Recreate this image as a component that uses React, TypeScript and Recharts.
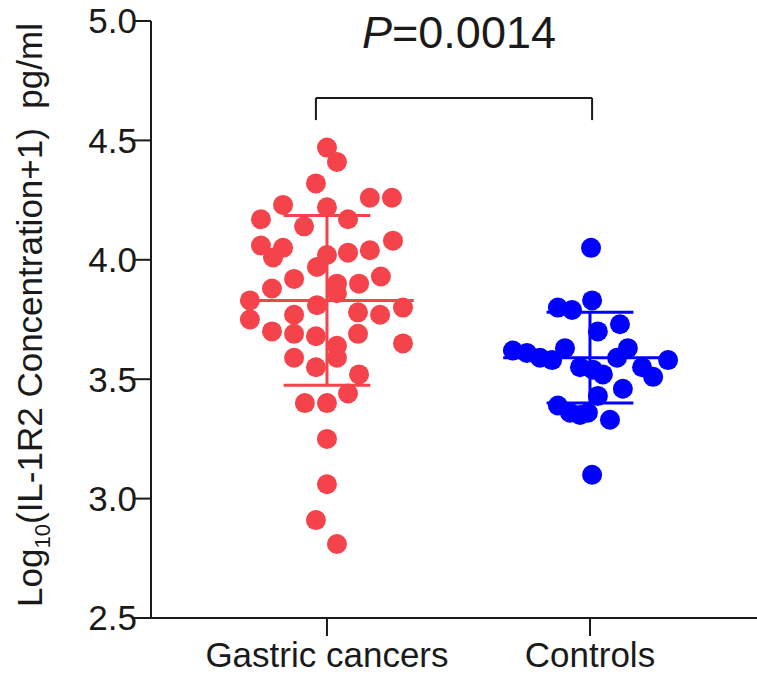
import { ScatterChart, Scatter, XAxis, YAxis, ReferenceLine } from "recharts";

const groups = ["Gastric cancers", "Controls"];
const groupPositions = [1, 2];
const groupColors = ["#F4434A", "#0000FF"];

// log10(IL-1R2 + 1) per subject
const gastricValues = [
  4.47, 4.41, 4.32, 4.23, 4.26, 4.26, 4.22, 4.17, 4.14, 4.17, 4.06, 4.05, 4.01, 4.08, 4.02, 4.03,
  4.04, 3.97, 3.92, 3.9, 3.9, 3.93, 3.88, 3.83, 3.81, 3.86, 3.78, 3.77, 3.8, 3.75, 3.77, 3.7,
  3.69, 3.68, 3.69, 3.64, 3.59, 3.65, 3.59, 3.55, 3.52, 3.44, 3.4, 3.4, 3.25, 3.06, 2.91, 2.81,
];
// horizontal scatter of each dot around its group (in group-spacing units)
const gastricSpread = [
  0, 0.038, -0.042, -0.167, 0.163, 0.247, 0, -0.251, -0.087, 0.08, -0.251, -0.167, -0.205, 0.251, 0, 0.08,
  0.163, -0.038, -0.125, 0.038, 0.122, 0.205, -0.209, -0.293, -0.038, 0.038, 0.118, 0.202, 0.289, -0.293, -0.125, -0.209,
  -0.125, -0.042, 0.118, 0.038, 0.038, 0.289, -0.125, -0.042, 0.122, 0.08, -0.084, 0, 0, 0, -0.042, 0.038,
];

const controlValues = [
  4.05, 3.8, 3.79, 3.83, 3.73, 3.7, 3.62, 3.61, 3.59, 3.58, 3.63, 3.55, 3.54, 3.52, 3.59, 3.63,
  3.55, 3.51, 3.58, 3.46, 3.43, 3.39, 3.36, 3.35, 3.36, 3.33, 3.1,
];
const controlSpread = [
  0.004, -0.122, -0.068, 0.008, 0.114, 0.03, -0.293, -0.24, -0.19, -0.144, -0.095, -0.038, 0.011, 0.049, 0.103, 0.144,
  0.198, 0.24, 0.297, 0.125, 0.03, -0.122, -0.076, -0.038, -0.008, 0.076, 0.008,
];

// mean ± SD as drawn
const groupMeans = [3.83, 3.59];
const groupSDs = [0.355, 0.19];

const yTicks = [2.5, 3.0, 3.5, 4.0, 4.5, 5.0];
const pValue = "0.0014";

const FONT = '"Liberation Sans", Arial, Helvetica, sans-serif';
const AXIS = "#1a1a1a";
const MEAN_HALF = 0.33;
const CAP_HALF = 0.165;
const BRACKET = { left: 0.958, right: 2.008, top: 4.678, foot: 4.585 };

const gastricData = gastricValues.map((v, i) => ({ x: groupPositions[0] + gastricSpread[i], y: v }));
const controlData = controlValues.map((v, i) => ({ x: groupPositions[1] + controlSpread[i], y: v }));

const dot = (color: string) => (props: any) => <circle cx={props.cx} cy={props.cy} r={10} fill={color} />;

export default function App() {
  return (
    <div style={{ position: "absolute", left: 0, top: 0, width: 757, height: 676, background: "#fff" }}>
      <ScatterChart width={757} height={676} margin={{ top: 21, right: 0, bottom: 28, left: 0 }}>
        <XAxis
          type="number"
          dataKey="x"
          domain={[0.331, 2.635]}
          ticks={groupPositions}
          tickFormatter={(v: number) => groups[groupPositions.indexOf(v)] ?? ""}
          height={30}
          stroke={AXIS}
          strokeWidth={2}
          tickSize={18}
          tickMargin={6}
          tick={{ fontSize: 35, fill: AXIS, fontFamily: FONT }}
          tickLine={{ stroke: AXIS, strokeWidth: 2 }}
          allowDataOverflow
        />
        <YAxis
          type="number"
          dataKey="y"
          domain={[2.5, 5.0]}
          ticks={yTicks}
          width={151}
          tickFormatter={(v: number) => v.toFixed(1)}
          stroke={AXIS}
          strokeWidth={2}
          tickSize={18}
          tickMargin={-4}
          tick={{ fontSize: 35, fill: AXIS, fontFamily: FONT }}
          tickLine={{ stroke: AXIS, strokeWidth: 2 }}
          allowDataOverflow
        />
        <Scatter data={gastricData} shape={dot(groupColors[0])} isAnimationActive={false} />
        <Scatter data={controlData} shape={dot(groupColors[1])} isAnimationActive={false} />
        {groups.map((g, i) => {
          const x = groupPositions[i];
          const m = groupMeans[i];
          const sd = groupSDs[i];
          const c = groupColors[i];
          return [
            <ReferenceLine
              key={g + "-mean"}
              segment={[{ x: x - MEAN_HALF, y: m }, { x: x + MEAN_HALF, y: m }]}
              stroke={c}
              strokeWidth={3}
              ifOverflow="visible"
            />,
            <ReferenceLine
              key={g + "-sd"}
              segment={[{ x, y: m - sd }, { x, y: m + sd }]}
              stroke={c}
              strokeWidth={3}
              ifOverflow="visible"
            />,
            <ReferenceLine
              key={g + "-cap-hi"}
              segment={[{ x: x - CAP_HALF, y: m + sd }, { x: x + CAP_HALF, y: m + sd }]}
              stroke={c}
              strokeWidth={3}
              ifOverflow="visible"
            />,
            <ReferenceLine
              key={g + "-cap-lo"}
              segment={[{ x: x - CAP_HALF, y: m - sd }, { x: x + CAP_HALF, y: m - sd }]}
              stroke={c}
              strokeWidth={3}
              ifOverflow="visible"
            />,
          ];
        })}
        <ReferenceLine
          segment={[{ x: BRACKET.left, y: BRACKET.top }, { x: BRACKET.right, y: BRACKET.top }]}
          stroke={AXIS}
          strokeWidth={2}
          ifOverflow="visible"
        />
        <ReferenceLine
          segment={[{ x: BRACKET.left, y: BRACKET.top }, { x: BRACKET.left, y: BRACKET.foot }]}
          stroke={AXIS}
          strokeWidth={2}
          ifOverflow="visible"
        />
        <ReferenceLine
          segment={[{ x: BRACKET.right, y: BRACKET.top }, { x: BRACKET.right, y: BRACKET.foot }]}
          stroke={AXIS}
          strokeWidth={2}
          ifOverflow="visible"
        />
      </ScatterChart>
      <svg
        width={757}
        height={676}
        style={{ position: "absolute", left: 0, top: 0, pointerEvents: "none" }}
        fontFamily={FONT}
      >
        <text x={459} y={48} textAnchor="middle" fontSize={45} fill={AXIS}>
          <tspan fontStyle="italic">P</tspan>={pValue}
        </text>
        <text
          x={42}
          y={315}
          transform="rotate(-90 42 315)"
          textAnchor="middle"
          fontSize={35}
          fill={AXIS}
          style={{ whiteSpace: "pre" }}
        >
          Log<tspan fontSize={22} dy={8}>10</tspan>
          <tspan dy={-8}>{"(IL-1R2 Concentration+1)  pg/ml"}</tspan>
        </text>
      </svg>
    </div>
  );
}
